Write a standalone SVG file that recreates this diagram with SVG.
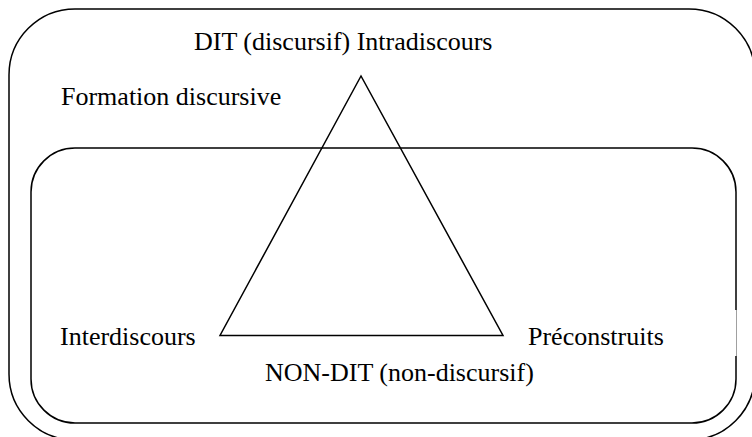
<svg xmlns="http://www.w3.org/2000/svg" width="752" height="437" viewBox="0 0 752 437">
<style>
.box{fill:none;stroke:#000;stroke-width:1.5}
.lbl{font-family:'Liberation Serif','DejaVu Serif',serif;font-size:26px;fill:#000}
</style>
<rect width="752" height="437" fill="#fff"/>
<g id="formation-discursive">
<rect class="box" x="9" y="9" width="746" height="431" rx="66" ry="66"/>
<text class="lbl" x="61" y="105">Formation discursive</text>
</g>
<g id="non-dit">
<rect class="box" x="31" y="148" width="705" height="275" rx="44" ry="44"/>
<line x1="736" y1="310" x2="736" y2="356" stroke="#fff" stroke-width="2.5"/>
<line x1="736.5" y1="310" x2="736.5" y2="356" stroke="#888" stroke-width="0.8"/>
<text class="lbl" x="265" y="381">NON-DIT (non-discursif)</text>
</g>
<g id="connectors">
<polygon class="box" points="361,76 220,335.5 503,335.5"/>
</g>
<g id="dit">
<text class="lbl" x="194" y="50">DIT (discursif) Intradiscours</text>
</g>
<g id="interdiscours">
<text class="lbl" x="60" y="345">Interdiscours</text>
</g>
<g id="preconstruits">
<text class="lbl" x="528" y="345">Préconstruits</text>
</g>
</svg>
